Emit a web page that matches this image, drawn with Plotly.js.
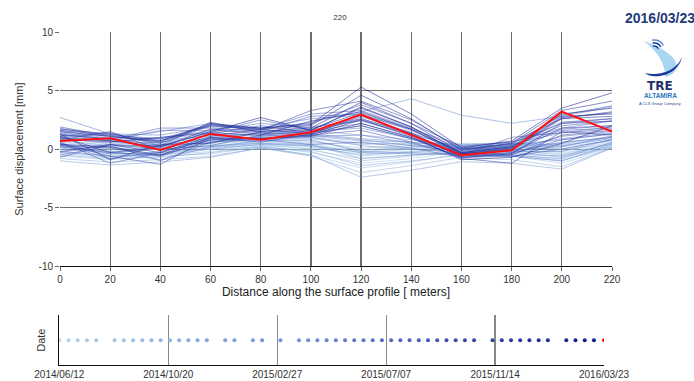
<!DOCTYPE html>
<html><head><meta charset="utf-8">
<script src="https://cdn.plot.ly/plotly-3.0.1.min.js"></script>
<style>html,body{margin:0;padding:0;background:#fff}#chart{width:694px;height:381px}</style>
</head><body><div id="chart"></div>
<script>
// ---- data ----
const distances = [0,20,40,60,80,100,120,140,160,180,200,220];
const dates = [
 '2014-06-12','2014-06-23','2014-07-04','2014-07-15','2014-07-26',
 '2014-08-17','2014-08-28','2014-09-08','2014-09-19','2014-09-30','2014-10-11','2014-10-22','2014-11-02','2014-11-13','2014-11-24','2014-12-05',
 '2014-12-27','2015-01-07','2015-01-29','2015-02-09','2015-03-03',
 '2015-03-25','2015-04-05','2015-04-16','2015-04-27','2015-05-08','2015-05-19','2015-05-30','2015-06-10','2015-06-21','2015-07-02',
 '2015-07-13','2015-07-24','2015-08-04','2015-08-15','2015-08-26','2015-09-06','2015-09-17','2015-09-28','2015-10-09','2015-10-20',
 '2015-11-11','2015-11-22','2015-12-03','2015-12-14','2015-12-25','2016-01-05','2016-01-16',
 '2016-02-07','2016-02-18','2016-02-29','2016-03-11','2016-03-23'
];
const displacement = [
 [0.0,0.0,0.0,0.0,0.0,0.0,0.0,0.0,0.0,0.0,0.0,0.0],
 [0.3,-0.2,0.1,0.2,0.3,0.1,-0.4,-0.2,0.1,-0.1,-0.3,0.2],
 [-0.2,-0.5,-0.3,0.0,0.2,-0.1,-0.8,-0.5,0.0,-0.3,-0.6,0.1],
 [0.5,0.1,0.3,0.4,0.5,0.3,-0.2,0.1,0.3,0.2,0.0,0.4],
 [-0.4,-0.7,-0.5,-0.2,0.3,-0.3,-1.2,-0.8,-0.2,-0.5,-0.9,0.2],
 [0.2,-0.3,0.0,0.5,0.6,0.4,-0.6,-0.3,0.2,0.0,-0.4,0.5],
 [0.8,0.3,0.5,0.7,0.8,0.6,0.1,0.3,0.4,0.3,0.2,0.7],
 [-0.6,-0.9,-0.6,-0.4,0.2,-0.5,-1.6,-1.1,-0.4,-0.6,-1.2,0.1],
 [0.4,0.0,0.2,0.6,0.7,0.5,-0.3,0.0,0.1,0.1,-0.2,0.6],
 [1.0,0.4,0.6,0.9,1.0,0.9,0.4,0.5,0.5,0.4,0.3,0.9],
 [-0.3,-0.6,-0.4,0.1,0.4,0.0,-1.0,-0.6,-0.1,-0.2,-0.7,0.3],
 [0.6,0.2,0.4,0.8,0.9,0.7,-0.1,0.2,0.3,0.2,0.0,0.8],
 [-0.8,-1.1,-0.9,-0.6,0.1,-0.6,-2.0,-1.4,-0.7,-0.9,-1.5,0.1],
 [0.2,-0.2,0.0,0.3,0.5,0.2,-0.5,-0.2,0.0,-0.1,-0.5,0.4],
 [1.2,0.6,0.8,1.1,1.2,1.1,0.7,0.6,0.4,0.5,0.4,1.0],
 [-0.5,-0.8,-0.7,-0.3,0.2,-0.2,-1.4,-1.0,-0.5,-0.6,-1.0,0.2],
 [0.7,0.3,0.3,0.9,0.9,1.0,0.5,0.4,0.0,0.1,0.3,0.9],
 [-1.0,-1.35,-1.1,-0.7,0.1,-0.5,-2.4,-1.8,-1.07,-1.2,-1.7,0.1],
 [1.5,0.8,1.0,1.5,1.5,1.6,1.2,0.8,0.2,0.4,0.8,1.3],
 [0.1,-0.4,-0.3,0.2,0.5,0.4,-0.8,-0.5,-0.3,-0.4,-0.6,0.5],
 [0.9,0.5,0.6,1.2,1.1,1.3,0.9,0.6,0.1,0.2,0.5,1.1],
 [-0.2,-0.6,-0.5,0.0,0.4,0.3,-0.3,-0.4,-0.5,-0.6,-1.0,0.4],
 [1.3,0.7,0.9,1.6,1.7,2.3,3.2,4.3,2.9,2.2,2.8,3.6],
 [0.5,-0.4,0.1,0.7,0.8,1.0,0.3,0.0,-0.3,-0.2,-0.2,0.8],
 [1.1,1.2,0.9,1.3,1.2,1.5,1.8,0.9,0.0,0.2,0.9,1.4],
 [0.3,-0.2,-0.9,0.2,0.7,0.8,-0.2,-0.3,-0.4,-0.5,-0.8,0.6],
 [1.6,0.9,1.5,2.2,1.5,1.9,2.4,1.3,0.1,0.4,1.4,1.9],
 [-0.3,0.4,0.2,1.0,1.4,1.2,0.8,0.3,-0.2,-0.1,0.2,1.1],
 [2.7,1.3,1.2,1.9,1.8,2.6,2.9,1.7,0.3,0.6,1.8,2.4],
 [0.4,-0.8,-0.2,0.8,0.9,1.1,1.2,0.5,-0.5,-0.3,0.6,1.0],
 [1.3,0.7,1.6,1.6,2.2,1.8,2.6,1.4,-0.1,0.3,1.7,2.0],
 [-0.5,0.3,-1.0,0.6,1.1,1.4,2.0,0.9,-0.4,-0.1,1.1,1.5],
 [0.2,-0.3,-0.5,0.6,0.8,0.4,0.6,0.1,-0.7,-0.6,0.0,0.8],
 [1.8,1.0,0.9,2.0,1.7,3.0,3.3,1.8,0.0,0.5,2.2,2.6],
 [1.1,1.4,0.3,1.4,2.5,1.6,2.5,1.2,-0.3,0.1,1.6,1.8],
 [0.6,-1.2,-0.3,0.9,1.0,1.2,1.6,0.6,-0.6,-0.4,0.8,1.3],
 [1.4,0.8,1.8,1.8,1.5,2.8,3.0,1.6,-0.2,0.3,2.0,2.4],
 [-0.7,0.4,0.0,0.3,1.2,1.5,2.2,1.0,-0.5,1.0,1.4,1.7],
 [1.9,1.1,0.7,2.1,1.8,2.2,3.8,2.2,0.2,0.6,2.6,3.2],
 [0.5,-0.6,-1.3,1.0,0.6,1.3,2.0,0.9,-0.7,-0.5,1.2,1.6],
 [1.2,0.9,0.3,2.3,1.4,1.7,3.1,1.7,-0.3,0.2,2.3,2.6],
 [0.8,1.5,-0.1,1.3,2.0,1.4,2.6,1.3,-0.6,-0.3,1.8,2.0],
 [1.6,1.2,0.5,2.0,1.6,3.3,4.1,2.5,0.0,0.4,2.9,3.7],
 [0.3,0.1,-0.6,0.8,0.9,1.1,2.2,1.0,-0.8,-1.2,1.5,1.2],
 [1.1,-0.3,0.2,1.7,1.3,1.6,3.5,1.9,-0.4,0.1,2.8,3.0],
 [-0.2,0.4,-0.3,1.1,1.7,1.3,2.8,1.4,-0.7,-0.4,2.2,2.4],
 [1.5,1.1,0.6,2.1,1.7,2.0,4.6,2.6,-0.1,0.5,3.3,4.1],
 [0.9,0.6,1.0,1.4,1.2,2.4,3.2,1.7,-0.5,-0.1,2.6,2.8],
 [1.3,-0.9,0.4,0.5,1.5,1.8,4.0,2.2,-0.3,0.2,3.0,3.5],
 [0.4,0.2,-0.5,1.0,0.9,1.2,2.5,1.1,-0.9,-0.7,0.5,2.0],
 [1.7,1.3,0.7,2.2,1.8,2.1,5.3,3.0,0.1,0.7,3.5,4.8],
 [1.0,0.7,0.2,1.5,2.7,1.6,3.6,1.9,-0.4,0.0,2.7,3.1],
 [0.7,0.93,-0.07,1.3,0.8,1.44,2.95,1.2,-0.52,-0.1,3.2,1.5]
];
const dateTickVals = ['2014-06-12','2014-10-20','2015-02-27','2015-07-07','2015-11-14','2016-03-23'];
const dateTickText = ['2014/06/12','2014/10/20','2015/02/27','2015/07/07','2015/11/14','2016/03/23'];
const xTicks = [0,20,40,60,80,100,120,140,160,180,200,220];
const yTicks = [-10,-5,0,5,10];
const yTickText = ['-10','-5','0','5','10'];
const currentDate = '2016/03/23';
const profileName = '220';

// ---- colours ----
const stops = [[0,[176,216,236]],[0.5,[100,128,208]],[1,[20,26,140]]];
function colorAt(t, a){
  let i = t <= 0.5 ? 0 : 1;
  const s0 = stops[i], s1 = stops[i+1];
  const f = (t - s0[0])/(s1[0]-s0[0]);
  const c = s0[1].map((v,k)=>Math.round(v + (s1[1][k]-v)*f));
  return 'rgba('+c[0]+','+c[1]+','+c[2]+','+a+')';
}
const n = dates.length;
const traces = [];
for (let i=0;i<n-1;i++){
  const t = i/(n-2);
  traces.push({x:distances,y:displacement[i],type:'scatter',mode:'lines',
    line:{color:colorAt(t,0.55),width:1},hoverinfo:'skip',showlegend:false,xaxis:'x',yaxis:'y'});
}
traces.push({x:distances,y:displacement[n-1],type:'scatter',mode:'lines',
  line:{color:'#ff1010',width:2},showlegend:false,xaxis:'x',yaxis:'y'});
const dotColors = dates.map((d,i)=> i===n-1 ? '#ff1010' : colorAt(i/(n-2),1));
traces.push({x:dates,y:dates.map(()=>1),type:'scatter',mode:'markers',
  marker:{color:dotColors,size:4},showlegend:false,xaxis:'x2',yaxis:'y2'});

const W=694,H=381;
const px=(v)=>v/W, py=(v)=>1-v/H;

const logoSvg = "<svg xmlns='http://www.w3.org/2000/svg' width='56' height='54' viewBox='0 0 56 54'>"+
 "<path d='M11 11 C28 16 44 26 45 36 C45 42 38 46 33 47 C34 38 28 22 11 11 Z' fill='%23aad6f4'/>"+
 "<path d='M13 43 C26 46 44 42 50 27 C48 38 36 48 20 46 C17 45.5 15 44.5 13 43 Z' fill='%231c3a98'/>"+
 "<path d='M21.1 16.1 A5 5 0 0 1 26.3 18.5' stroke='%231c3a98' stroke-width='1.6' fill='none'/>"+
 "<path d='M20.6 13.1 A8 8 0 0 1 28.9 17' stroke='%231c3a98' stroke-width='1.5' fill='none'/>"+
 "<path d='M20.1 10.2 A11 11 0 0 1 31.5 15.5' stroke='%235a8ad8' stroke-width='1.3' fill='none'/>"+
 "</svg>";

const layout = {
  width:W,height:H,margin:{l:0,r:0,t:0,b:0},paper_bgcolor:'#fff',plot_bgcolor:'#fff',
  font:{family:'Liberation Sans, Arial, sans-serif',color:'#333',size:10},
  showlegend:false,
  title:{text:profileName,font:{size:8,color:'#333'},x:px(340),xanchor:'center',y:py(17),yanchor:'middle'},
  xaxis:{domain:[px(60),px(612)],range:[0,220],tickvals:xTicks,ticks:'outside',ticklen:4,tickcolor:'#666',
    showgrid:true,gridcolor:'#6e6e6e',gridwidth:1.3,zeroline:false,showline:true,linecolor:'#111',linewidth:1,
    tickfont:{size:10,color:'#333'},
    title:{text:'Distance along the surface profile [ meters]',font:{size:12,color:'#222'},standoff:3},anchor:'y'},
  yaxis:{domain:[py(266.3),py(32)],range:[-10,10],tickvals:yTicks,ticktext:yTickText,ticks:'outside',ticklen:4,tickcolor:'#666',
    showgrid:true,gridcolor:'#6e6e6e',gridwidth:1.3,zeroline:false,showline:false,
    tickfont:{size:10,color:'#333'},
    title:{text:'Surface displacement [mm]',font:{size:11,color:'#333'},standoff:12},anchor:'x'},
  xaxis2:{domain:[px(59.3),px(604)],type:'date',range:['2014-06-12','2016-03-23'],tickvals:dateTickVals,ticktext:dateTickText,
    showgrid:true,gridcolor:'#888',gridwidth:1.2,zeroline:false,showline:true,linecolor:'#111',linewidth:1,ticks:'',
    tickfont:{size:10,color:'#333'},anchor:'y2'},
  yaxis2:{domain:[py(365.3),py(315)],range:[0,2],showticklabels:false,ticks:'',showgrid:false,zeroline:false,
    showline:true,linecolor:'#111',linewidth:1,
    title:{text:'Date',font:{size:11,color:'#333'},standoff:10},anchor:'x2'},
  annotations:[
    {xref:'paper',yref:'paper',x:px(660),y:py(18),text:'<b>'+currentDate+'</b>',showarrow:false,
      font:{size:14,color:'#1f3a7a',family:'Liberation Sans, Arial, sans-serif'},xanchor:'center',yanchor:'middle'},
    {xref:'paper',yref:'paper',x:px(660),y:py(85.5),text:'<b>TRE</b>',showarrow:false,
      font:{size:12,color:'#1f2f6e',family:'DejaVu Sans, sans-serif'},xanchor:'center',yanchor:'middle'},
    {xref:'paper',yref:'paper',x:px(660),y:py(95),text:'<b>ALTAMIRA</b>',showarrow:false,
      font:{size:6.5,color:'#2a78c0',family:'Liberation Sans, Arial, sans-serif'},xanchor:'center',yanchor:'middle'},
    {xref:'paper',yref:'paper',x:px(660),y:py(103),text:'A CLS Group Company',showarrow:false,
      font:{size:4,color:'#2a4a90',family:'Liberation Sans, Arial, sans-serif'},xanchor:'center',yanchor:'middle'}
  ],
  images:[{source:'data:image/svg+xml;utf8,'+logoSvg,xref:'paper',yref:'paper',x:px(632),y:py(30),
    sizex:56/W,sizey:54/H,xanchor:'left',yanchor:'top',sizing:'stretch',layer:'above'}]
};
Plotly.newPlot('chart',traces,layout,{displayModeBar:false,staticPlot:true});
</script></body></html>
